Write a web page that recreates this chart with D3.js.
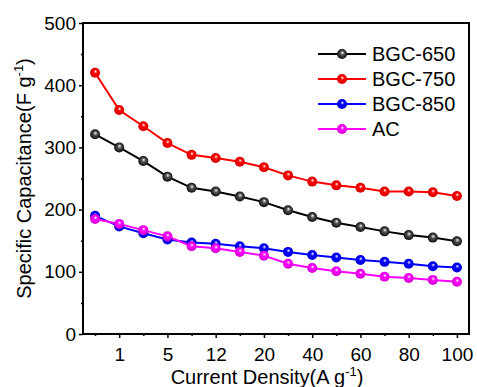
<!DOCTYPE html>
<html>
<head>
<meta charset="utf-8">
<script src="https://cdn.jsdelivr.net/npm/d3@7"></script>
<style>
  body { margin: 0; background: #fff; }
  text { font-family: "Liberation Sans", Arial, sans-serif; }
</style>
</head>
<body>
<svg id="plotCanvas" width="477" height="387"></svg>
<script>
// current densities (A/g), one per point
var densities = ["0.5", "1", "3", "5", "8", "12", "15", "20", "30", "40", "50", "60", "70", "80", "90", "100"];
var seriesNames = ["BGC-650", "BGC-750", "BGC-850", "AC"];
var seriesColors = ["#000000", "#ff0000", "#0000ff", "#ff00ff"];

var bgc650 = [321, 300, 278, 253, 235, 229, 221, 212, 199, 188, 179, 172, 165, 159, 155, 149];
var bgc750 = [420, 360, 334, 307, 288, 283, 277, 268, 255, 245, 239, 235, 229, 229, 228, 222];
var bgc850 = [190, 173, 162, 152, 147, 145, 141, 138, 132, 127, 123, 119, 116, 113, 109, 107];
var ac     = [185, 177, 167, 157, 141, 138, 132, 126, 113, 106, 101, 97, 92, 90, 87, 84];

var yTicks = [0, 100, 200, 300, 400, 500];
var yMinorTicks = [50, 150, 250, 350, 450];

var allSeries = [bgc650, bgc750, bgc850, ac];

var canvas = d3.select("#plotCanvas");

//plot frame ("top" is taken by window.top, so prefixed names)
var plotLeft = 83, plotRight = 469, plotTop = 23, plotBottom = 334;

var x = d3.scaleLinear().domain([-0.5, densities.length - 0.5]).range([plotLeft, plotRight]);
var y = d3.scaleLinear().domain([0, 500]).range([plotBottom, plotTop]);

//gradients so the markers look like little balls
var defs = canvas.append("defs");
seriesColors.forEach(function(c, i) {
   var g = defs.append("radialGradient")
      .attr("id", "ball" + i)
      .attr("cx", "50%").attr("cy", "50%").attr("r", "55%")
      .attr("fx", "55%").attr("fy", "35%");
   g.append("stop").attr("offset", "0%").attr("stop-color", "#ffffff");
   g.append("stop").attr("offset", "35%").attr("stop-color", i == 0 ? "#555555" : c);
   g.append("stop").attr("offset", "100%").attr("stop-color", i == 0 ? "#000000" : d3.color(c).darker(0.6));
});

//major ticks at odd indices carry labels, the rest are minor
var majorIdx = d3.range(1, densities.length, 2);
var minorIdx = d3.range(0, densities.length, 2);

canvas.append("g")
   .attr("transform", "translate(0," + plotBottom + ")")
   .call(d3.axisBottom(x).tickValues(majorIdx).tickSize(4).tickPadding(10)
      .tickFormat(function(d) { return densities[d]; }))
   .call(function(g) { g.select(".domain").remove(); });

canvas.append("g")
   .attr("transform", "translate(0," + plotBottom + ")")
   .call(d3.axisBottom(x).tickValues(minorIdx).tickSize(2).tickFormat(""))
   .call(function(g) { g.select(".domain").remove(); });

canvas.append("g")
   .attr("transform", "translate(" + plotLeft + ",0)")
   .call(d3.axisLeft(y).tickValues(yTicks).tickSize(4).tickPadding(3))
   .call(function(g) { g.select(".domain").remove(); });

canvas.append("g")
   .attr("transform", "translate(" + plotLeft + ",0)")
   .call(d3.axisLeft(y).tickValues(yMinorTicks).tickSize(2).tickFormat(""))
   .call(function(g) { g.select(".domain").remove(); });

canvas.selectAll(".tick line").attr("stroke", "#000").attr("stroke-width", 1.5);
canvas.selectAll(".tick text").attr("font-size", "19px").attr("fill", "#000")
   .style("font-family", "'Liberation Sans', Arial, sans-serif");

//frame
canvas.append("rect")
   .attr("x", plotLeft).attr("y", plotTop)
   .attr("width", plotRight - plotLeft).attr("height", plotBottom - plotTop)
   .attr("fill", "none").attr("stroke", "#000").attr("stroke-width", 2);

var line = d3.line()
   .x(function(d, i) { return x(i); })
   .y(function(d) { return y(d); });

allSeries.forEach(function(s, k) {
   canvas.append("path")
      .datum(s)
      .attr("d", line)
      .attr("fill", "none")
      .attr("stroke", seriesColors[k])
      .attr("stroke-width", 2);
});

allSeries.forEach(function(s, k) {
   canvas.append("g").selectAll("circle")
      .data(s)
      .enter().append("circle")
      .attr("cx", function(d, i) { return x(i); })
      .attr("cy", function(d) { return y(d); })
      .attr("r", 5)
      .attr("fill", "url(#ball" + k + ")");
});

//legend
var legend = canvas.append("g");
seriesNames.forEach(function(name, k) {
   var ly = 54 + k * 25;
   legend.append("line")
      .attr("x1", 318).attr("x2", 366)
      .attr("y1", ly).attr("y2", ly)
      .attr("stroke", seriesColors[k]).attr("stroke-width", 2);
   legend.append("circle")
      .attr("cx", 342).attr("cy", ly).attr("r", 5)
      .attr("fill", "url(#ball" + k + ")");
   legend.append("text")
      .attr("x", 372).attr("y", ly)
      .attr("dy", "0.35em")
      .attr("font-size", "20px")
      .attr("fill", "#000")
      .text(name);
});

//axis titles
var xt = canvas.append("text")
   .attr("x", 267).attr("y", 384)
   .attr("text-anchor", "middle")
   .attr("font-size", "20px")
   .attr("fill", "#000");
xt.append("tspan").text("Current Density(A g");
xt.append("tspan").attr("dy", "-8").attr("font-size", "13px").text("-1");
xt.append("tspan").attr("dy", "8").text(")");

var yt = canvas.append("text")
   .attr("transform", "translate(31," + ((plotTop + plotBottom) / 2) + ") rotate(-90)")
   .attr("text-anchor", "middle")
   .attr("font-size", "20px")
   .attr("fill", "#000");
yt.append("tspan").text("Specific Capacitance(F g");
yt.append("tspan").attr("dy", "-8").attr("font-size", "13px").text("-1");
yt.append("tspan").attr("dy", "8").text(")");
</script>
</body>
</html>
